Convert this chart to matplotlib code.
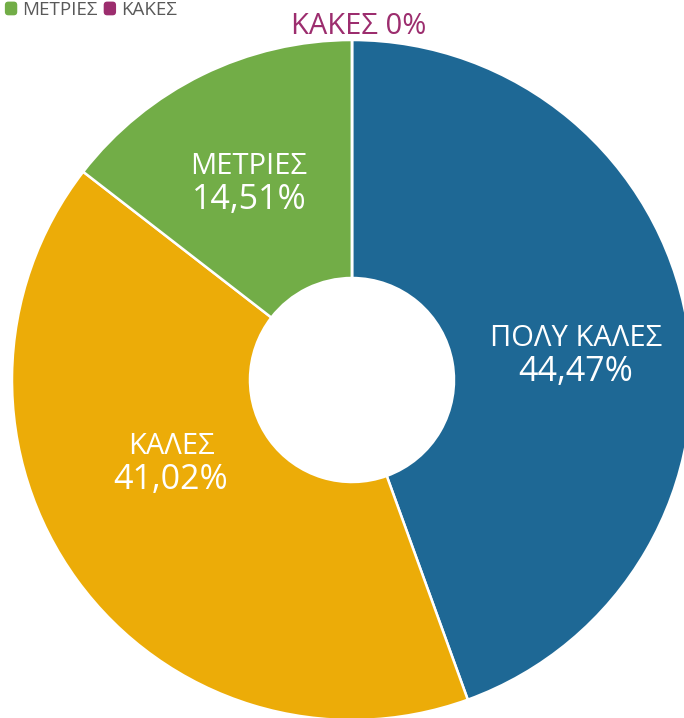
import matplotlib
matplotlib.use("Agg")
import matplotlib.pyplot as plt
import numpy as np
from matplotlib.patches import FancyBboxPatch
from matplotlib.legend_handler import HandlerPatch

plt.rcParams['font.family'] = ['Open Sans', 'DejaVu Sans']

categories = ["ΠΟΛΥ ΚΑΛΕΣ", "ΚΑΛΕΣ", "ΜΕΤΡΙΕΣ", "ΚΑΚΕΣ"]
values = [44.47, 41.02, 14.51, 0.0]
colors = ["#1E6895", "#ECAC08", "#72AD47", "#9C2D6E"]

# label layout: (radius fraction, angle shift in degrees)
label_layout = [(0.664, -2.7), (0.581, -12.4), (0.664, 1.0), (1.05, -1.1)]


def fmt(v):
    if v == 0:
        return "0%"
    return f"{v:.2f}".replace(".", ",") + "%"


W, H = 684, 718
fig = plt.figure(figsize=(W / 100, H / 100), dpi=100)
ax = fig.add_axes([0, 0, 1, 1])

cx, cy, R = 352, H - 380, 340
wedges, _ = ax.pie(values, colors=colors, startangle=90, counterclock=False,
                   center=(cx, cy), radius=R,
                   wedgeprops=dict(width=R * 0.70, edgecolor="white", linewidth=1.8))
ax.set_xlim(0, W)
ax.set_ylim(0, H)
ax.set_aspect("equal")
ax.axis("off")

half_gap = 16.5  # half distance between the two label lines (pixels)
for w, cat, v, (frac, shift), col in zip(wedges, categories, values, label_layout, colors):
    mid = np.deg2rad((w.theta1 + w.theta2) / 2 + shift)
    x = cx + frac * R * np.cos(mid)
    y = cy + frac * R * np.sin(mid)
    if v == 0:
        ax.text(x, y, f"{cat} {fmt(v)}", ha="center", va="center_baseline",
                fontsize=21, color=col)
    else:
        ax.text(x, y + half_gap, cat, ha="center", va="center_baseline",
                fontsize=21, color="white")
        ax.text(x, y - half_gap, fmt(v), ha="center", va="center_baseline",
                fontsize=24.5, color="white")


def rounded_square(legend, orig_handle, xdescent, ydescent, width, height, fontsize):
    return FancyBboxPatch((-xdescent, -ydescent), width, height,
                          boxstyle="round,pad=0,rounding_size=2.5",
                          facecolor=orig_handle.get_facecolor(), edgecolor="none")


handles = [plt.Rectangle((0, 0), 1, 1, facecolor=c, edgecolor="none") for c in colors]
leg = fig.legend(handles, categories, ncol=4, loc="upper right",
                 bbox_to_anchor=(177 / W, 1.0 - 1 / H), frameon=False,
                 handlelength=0.66, handleheight=0.75, handletextpad=0.27,
                 columnspacing=0.32, borderaxespad=0, borderpad=0,
                 fontsize=13.5, labelcolor="#595959",
                 handler_map={plt.Rectangle: HandlerPatch(patch_func=rounded_square)})

fig.savefig("out.png", dpi=100)
